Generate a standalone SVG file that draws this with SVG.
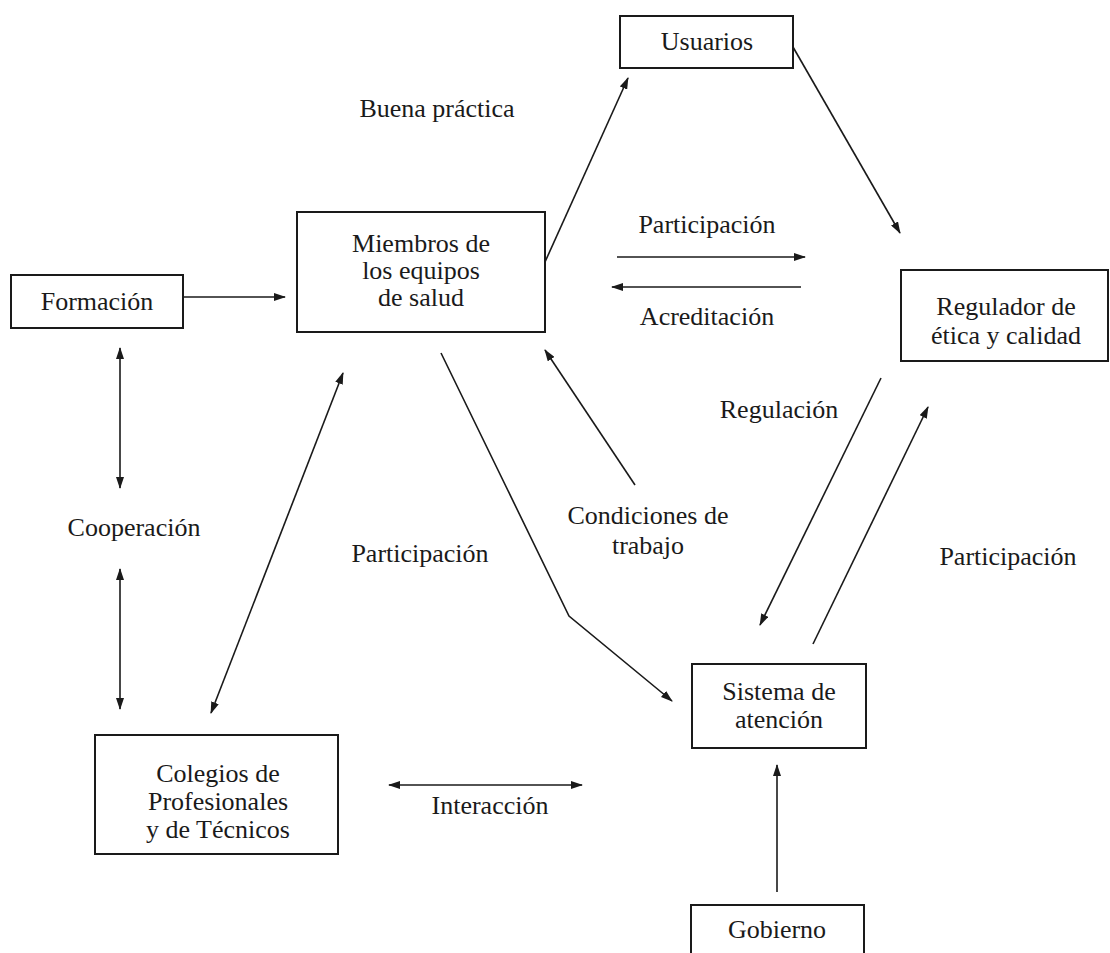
<svg xmlns="http://www.w3.org/2000/svg" width="1110" height="953" viewBox="0 0 1110 953">
<style>
.box{fill:none;stroke:#1a1a1a;stroke-width:2}
.t{font-family:"Liberation Serif","Times New Roman",serif;font-size:26px;fill:#1a1a1a;text-anchor:middle}
.c{fill:none;stroke:#1a1a1a;stroke-width:1.6}
.a{marker-end:url(#ah)}
.b{marker-start:url(#ah);marker-end:url(#ah)}
</style>
<defs>
<marker id="ah" markerUnits="userSpaceOnUse" markerWidth="12" markerHeight="8" refX="11" refY="4" orient="auto-start-reverse">
<path d="M0,0 L12,4 L0,8 z" fill="#1a1a1a"/>
</marker>
</defs>
<rect width="1110" height="953" fill="#fff"/>
<g id="usuarios"><rect class="box" x="620" y="16" width="173" height="52"/><text class="t" x="707" y="50">Usuarios</text></g>
<g id="miembros"><rect class="box" x="297" y="212" width="248" height="120"/><text class="t" x="421" y="252">Miembros de</text><text class="t" x="421" y="279">los equipos</text><text class="t" x="421" y="306">de salud</text></g>
<g id="formacion"><rect class="box" x="11" y="275" width="172" height="53"/><text class="t" x="97" y="310">Formación</text></g>
<g id="regulador"><rect class="box" x="901" y="270" width="207" height="91"/><text class="t" x="1006" y="315">Regulador de</text><text class="t" x="1006" y="344">ética y calidad</text></g>
<g id="sistema"><rect class="box" x="692" y="664" width="174" height="84"/><text class="t" x="779" y="700">Sistema de</text><text class="t" x="779" y="728">atención</text></g>
<g id="colegios"><rect class="box" x="95" y="735" width="243" height="119"/><text class="t" x="218" y="782">Colegios de</text><text class="t" x="218" y="810">Profesionales</text><text class="t" x="218" y="838">y de Técnicos</text></g>
<g id="gobierno"><rect class="box" x="691" y="905" width="173" height="60"/><text class="t" x="777" y="938">Gobierno</text></g>
<g id="labels">
<text class="t" x="437" y="117">Buena práctica</text>
<text class="t" x="707" y="233">Participación</text>
<text class="t" x="707" y="325">Acreditación</text>
<text class="t" x="779" y="418">Regulación</text>
<text class="t" x="648" y="524">Condiciones de</text>
<text class="t" x="648" y="554">trabajo</text>
<text class="t" x="1008" y="565">Participación</text>
<text class="t" x="134" y="536">Cooperación</text>
<text class="t" x="420" y="562">Participación</text>
<text class="t" x="490" y="814">Interacción</text>
</g>
<g id="connectors">
<line class="c a" x1="183" y1="297" x2="285" y2="297"/>
<line class="c b" x1="120" y1="348" x2="120" y2="488"/>
<line class="c b" x1="120" y1="569" x2="120" y2="709"/>
<line class="c b" x1="343" y1="373" x2="211" y2="713"/>
<polyline class="c a" points="441,353 569,616 672,701"/>
<line class="c a" x1="635" y1="485" x2="545" y2="350"/>
<line class="c a" x1="545" y1="262" x2="628" y2="78"/>
<line class="c a" x1="793" y1="47" x2="900" y2="233"/>
<line class="c a" x1="617" y1="257" x2="805" y2="257"/>
<line class="c a" x1="801" y1="287" x2="612" y2="287"/>
<line class="c a" x1="881" y1="378" x2="760" y2="625"/>
<line class="c a" x1="813" y1="644" x2="928" y2="407"/>
<line class="c a" x1="777" y1="892" x2="777" y2="765"/>
<line class="c b" x1="389" y1="785" x2="582" y2="785"/>
</g>
</svg>
